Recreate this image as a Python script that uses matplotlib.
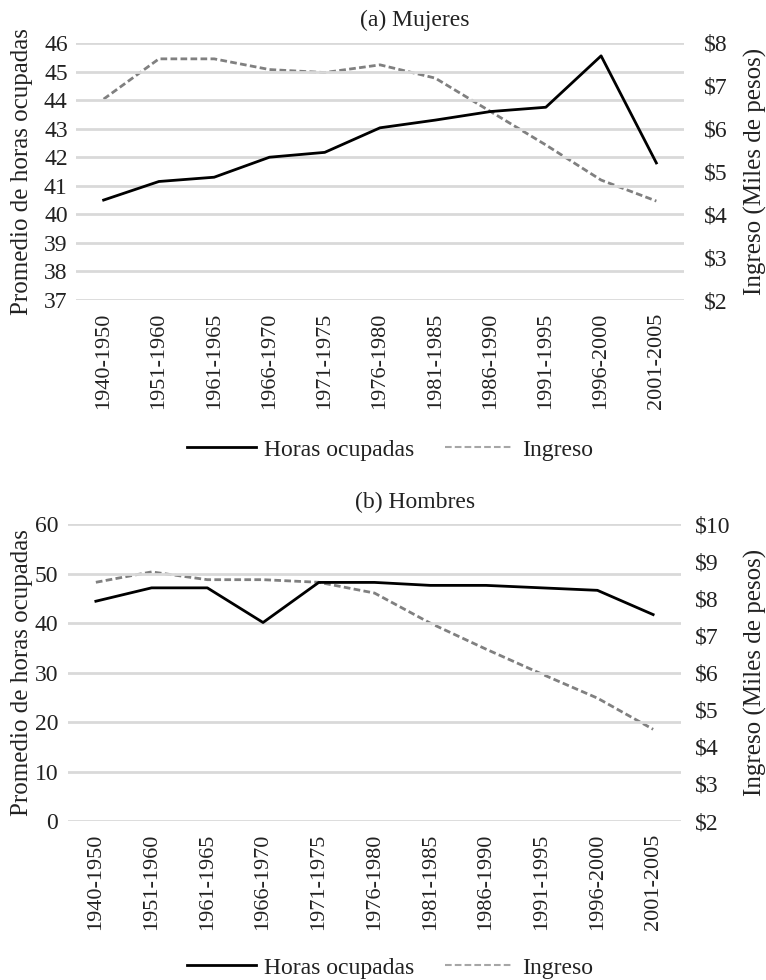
import matplotlib
matplotlib.use("Agg")
import matplotlib.pyplot as plt
from matplotlib.lines import Line2D

plt.rcParams['font.family'] = ['Liberation Serif', 'DejaVu Serif']

periods = ["1940-1950", "1951-1960", "1961-1965", "1966-1970", "1971-1975",
           "1976-1980", "1981-1985", "1986-1990", "1991-1995", "1996-2000", "2001-2005"]

horas_mujeres = [40.5, 41.15, 41.3, 42.0, 42.17, 43.03, 43.3, 43.6, 43.75, 45.55, 41.8]
ingreso_mujeres = [6.69, 7.63, 7.63, 7.38, 7.31, 7.49, 7.18, 6.4, 5.62, 4.8, 4.31]

horas_hombres = [44.4, 47.1, 47.1, 40.1, 48.2, 48.2, 47.6, 47.6, 47.1, 46.6, 41.7]
ingreso_hombres = [8.43, 8.71, 8.5, 8.5, 8.43, 8.14, 7.33, 6.63, 5.96, 5.31, 4.47]

left_ticks_a = list(range(37, 47))
right_ticks_a = list(range(2, 9))
left_ticks_b = list(range(0, 61, 10))
right_ticks_b = list(range(2, 11))

FS = 17
W, H = 766, 980
fig = plt.figure(figsize=(W / 100, H / 100), dpi=100)
TXT = '#222222'

def px_axes(x0, x1, ytop, ybot):
    return fig.add_axes([x0 / W, 1 - ybot / H, (x1 - x0) / W, (ybot - ytop) / H])

def panel(ax, horas, ingreso, lt, rt, title, title_y, leg_y, ytop, ybot, lpad, rpad):
    x = list(range(len(periods)))
    ax.set_xlim(-0.5, len(periods) - 0.5)
    ax.set_ylim(lt[0], lt[-1])
    ax.set_yticks(lt)
    ax.grid(axis='y', color='#d9d9d9', linewidth=2)
    ax.set_axisbelow(True)
    for s in ax.spines.values():
        s.set_visible(False)
    ax.tick_params(axis='y', length=0, labelsize=FS, pad=lpad, labelcolor=TXT)
    ax.tick_params(axis='x', length=0, labelsize=16, pad=9, labelcolor=TXT)
    ax.set_xticks(x)
    ax.set_xticklabels(periods, rotation=90)
    ax2 = ax.twinx()
    ax2.set_ylim(rt[0], rt[-1])
    ax2.set_yticks(rt)
    ax2.set_yticklabels([f"${v}" for v in rt])
    for s in ax2.spines.values():
        s.set_visible(False)
    ax2.tick_params(axis='y', length=0, labelsize=FS, pad=rpad, labelcolor=TXT)
    ax2.plot(x, ingreso, color='#808080', linewidth=2, linestyle=(0, (2.4, 1.2)))
    ax.plot(x, horas, color='black', linewidth=2, zorder=5)
    ax.set_zorder(ax2.get_zorder() + 1)
    ax.patch.set_visible(False)
    yc = 1 - (ytop + ybot) / 2 / H
    fig.text(22 / W, yc, "Promedio de horas ocupadas", rotation=90, ha='center',
             va='center', fontsize=18, color=TXT)
    fig.text(755 / W, yc, "Ingreso (Miles de pesos)", rotation=90, ha='center',
             va='center', fontsize=18, color=TXT)
    fig.text(415 / W, 1 - title_y / H, title, ha='center', va='center', fontsize=FS, color=TXT)
    handles = [Line2D([], [], color='black', linewidth=2),
               Line2D([], [], color='#a6a6a6', linewidth=1.5, linestyle=(0, (3.2, 1.5)))]
    fig.legend(handles, ["Horas ocupadas", "Ingreso"], loc='center',
               bbox_to_anchor=(390 / W, 1 - leg_y / H), ncol=2, frameon=False,
               fontsize=FS, handlelength=2.9, handletextpad=0.35, columnspacing=1.3,
               labelcolor=TXT)

ax_a = px_axes(76, 684, 43, 300)
panel(ax_a, horas_mujeres, ingreso_mujeres, left_ticks_a, right_ticks_a,
      "(a) Mujeres", 20, 450, 43, 300, 6, 14)

ax_b = px_axes(68, 681, 524, 821)
panel(ax_b, horas_hombres, ingreso_hombres, left_ticks_b, right_ticks_b,
      "(b) Hombres", 502, 968, 524, 821, 7, 10)

fig.savefig("out.png", dpi=100)
